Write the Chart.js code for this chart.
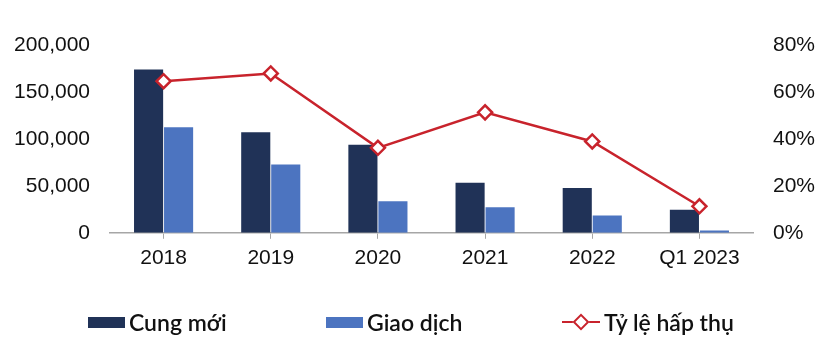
<!DOCTYPE html>
<html>
<head>
<meta charset="utf-8">
<script src="https://cdn.jsdelivr.net/npm/chart.js@4.4.0/dist/chart.umd.min.js"></script>
<style>
    html, body { margin: 0; padding: 0; background: #fff; }
    #wrap { position: relative; width: 829px; height: 354px; }
    #chart { position: absolute; left: 0; top: 0; }
    .legend-item {
        position: absolute; top: 309px; height: 26px;
        display: flex; align-items: center;
        font-family: Lato, 'Noto Sans', sans-serif; font-size: 23px; font-weight: 600; color: #111;
    }
    .swatch { width: 37px; height: 11px; margin-right: 4px; }
    .line-mark { position: relative; width: 38px; height: 26px; margin-right: 4px; }
    .line-mark::before {
        content: ''; position: absolute; left: 0; right: 0; top: 12px; height: 2px; background: #C8232C;
    }
    .line-mark::after {
        content: ''; position: absolute; left: 13px; top: 7px; width: 8px; height: 8px;
        background: #fff; border: 2px solid #C8232C; transform: rotate(45deg);
    }
</style>
</head>
<body>
<div id="wrap">
    <canvas id="chart" width="829" height="354"></canvas>
    <div class="legend-item" style="left:88px"><span class="swatch" style="background:#203257"></span>Cung mới</div>
    <div class="legend-item" style="left:326px"><span class="swatch" style="background:#4C74C0"></span>Giao dịch</div>
    <div class="legend-item" style="left:562px"><span class="line-mark"></span>Tỷ lệ hấp thụ</div>
</div>
<script>
// dữ liệu
const categories = ['2018', '2019', '2020', '2021', '2022', 'Q1 2023'];
const newSupply = [174000, 107000, 93800, 53200, 47800, 24600];     // Cung mới
const transactions = [112300, 72700, 33500, 27100, 18500, 2500];   // Giao dịch
const absorptionRate = [64.6, 67.9, 36.2, 51.3, 38.9, 11.3];      // Tỷ lệ hấp thụ (%)

const leftTicks = [0, 50000, 100000, 150000, 200000];
const rightTicks = [0, 20, 40, 60, 80];

const tickFont = { family: "'Liberation Sans', Arial, sans-serif", size: 21 };
const tickColor = '#111';

new Chart(document.getElementById('chart'), {
    type: 'bar',
    data: {
        labels: categories,
        datasets: [
            {
                label: 'Cung mới',
                data: newSupply,
                backgroundColor: '#203257',
                yAxisID: 'y',
                order: 1,
                categoryPercentage: 0.56,
                barPercentage: 0.97
            },
            {
                label: 'Giao dịch',
                data: transactions,
                backgroundColor: '#4C74C0',
                yAxisID: 'y',
                order: 1,
                categoryPercentage: 0.56,
                barPercentage: 0.97
            },
            {
                type: 'line',
                label: 'Tỷ lệ hấp thụ',
                data: absorptionRate,
                yAxisID: 'y1',
                order: 0,
                borderColor: '#C8232C',
                borderWidth: 2.5,
                pointStyle: 'rectRot',
                pointRadius: 7,
                pointBorderWidth: 2.5,
                pointBackgroundColor: '#fff',
                pointBorderColor: '#C8232C',
                tension: 0
            }
        ]
    },
    options: {
        responsive: false,
        animation: false,
        layout: { padding: { left: 0, right: 0, top: 45, bottom: 76 } },
        plugins: {
            legend: { display: false },
            tooltip: { enabled: false }
        },
        scales: {
            x: {
                grid: {
                    offset: false,
                    drawOnChartArea: false,
                    drawTicks: true,
                    tickLength: 6,
                    color: '#A6A6A6'
                },
                border: { color: '#A6A6A6', width: 1.5 },
                ticks: { font: tickFont, color: tickColor, padding: 7 }
            },
            y: {
                position: 'left',
                min: 0,
                max: 200000,
                afterFit: (s) => { s.width = 110; },
                afterBuildTicks: (s) => { s.ticks = leftTicks.map(v => ({ value: v })); },
                grid: { display: false, drawTicks: false },
                border: { display: false },
                ticks: {
                    font: tickFont, color: tickColor, padding: 20,
                    callback: (v) => v.toLocaleString('en-US')
                }
            },
            y1: {
                position: 'right',
                min: 0,
                max: 80,
                afterFit: (s) => { s.width = 76; },
                afterBuildTicks: (s) => { s.ticks = rightTicks.map(v => ({ value: v })); },
                grid: { display: false, drawTicks: false },
                border: { display: false },
                ticks: {
                    font: tickFont, color: tickColor, padding: 20,
                    callback: (v) => v + '%'
                }
            }
        }
    }
});
</script>
</body>
</html>
